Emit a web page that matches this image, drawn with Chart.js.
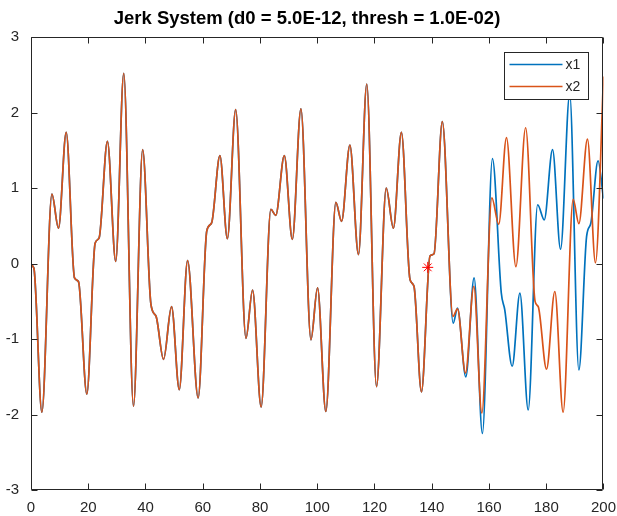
<!DOCTYPE html>
<html>
<head>
<meta charset="utf-8">
<script src="https://cdn.jsdelivr.net/npm/chart.js@4.4.0/dist/chart.umd.min.js"></script>
<style>
  html, body { margin: 0; padding: 0; background: #fff; }
  #wrap { width: 617px; height: 516px; }
</style>
</head>
<body>
<div id="wrap"><canvas id="jerkChart"></canvas></div>
<script>
// Jerk system: two trajectories started d0 apart, identical until they separate near t = 140

// shared part of both trajectories (turning points and shoulders)
const commonT = [0, 1.0, 3.8, 7.3, 9.6, 12.3, 15.2, 16.6, 19.5, 22.4, 23.8, 26.7, 29.6, 32.4,
  35.8, 39.0, 41.9, 43.7, 46.3, 49.1, 51.8, 54.7, 58.4, 61.4, 63.1, 66.0, 68.6, 71.5,
  75.1, 77.4, 80.4, 83.8, 85.5, 88.5, 91.3, 94.3, 97.8, 100.1, 103.0, 106.5, 108.5,
  111.4, 114.4, 117.3, 120.7, 124.1, 126.6, 129.4, 132.4, 133.8, 136.4, 139.4, 140.8, 143.7];
const commonY = [-0.02, -0.06, -1.97, 0.92, 0.47, 1.74, -0.19, -0.24, -1.73, 0.27, 0.34, 1.62, 0.03, 2.52,
  -1.89, 1.51, -0.54, -0.70, -1.27, -0.57, -1.67, 0.04, -1.78, 0.43, 0.54, 1.43, 0.33, 2.04,
  -0.99, -0.35, -1.90, 0.72, 0.64, 1.43, 0.32, 2.05, -1.01, -0.32, -1.96, 0.81, 0.56,
  1.57, 0.12, 2.38, -1.63, 1.00, 0.47, 1.74, -0.21, -0.30, -1.70, 0.10, 0.13, 1.88];

// x1 after separation
const x1TailT = [147.5, 149.0, 151.9, 154.8, 157.7, 161.2, 164.3, 165.5, 168.1, 170.8, 173.7,
  177.0, 179.3, 182.2, 185.0, 188.2, 191.4, 194.1, 195.6, 198.1, 200];
const x1TailY = [-0.79, -0.59, -1.50, -0.19, -2.25, 1.39, -0.39, -0.61, -1.36, -0.39, -1.94,
  0.78, 0.58, 1.51, 0.19, 2.25, -1.41, 0.36, 0.54, 1.36, 0.86];

// x2 after separation
const x2TailT = [147.4, 149.0, 151.8, 154.7, 157.5, 161.0, 163.4, 166.1, 169.4, 172.8, 176.1,
  177.2, 180.1, 183.0, 185.9, 189.4, 191.4, 194.4, 197.2, 200];
const x2TailY = [-0.70, -0.60, -1.45, -0.30, -1.98, 0.87, 0.52, 1.67, -0.04, 1.80, -0.50,
  -0.57, -1.40, -0.37, -1.97, 0.85, 0.53, 1.65, 0.01, 2.48];

// divergence marker
const markT = [138.6];
const markY = [-0.05];

const xTicks = [0, 20, 40, 60, 80, 100, 120, 140, 160, 180, 200];
const yTicks = [-3, -2, -1, 0, 1, 2, 3];

const seriesNames = ['x1', 'x2'];
const seriesColors = ['#0072BD', '#D95319'];

function toPoints(ts, ys) {
  return ts.map((t, i) => ({ x: t, y: ys[i] }));
}

const x1Data = toPoints(commonT.concat(x1TailT), commonY.concat(x1TailY));
const x2Data = toPoints(commonT.concat(x2TailT), commonY.concat(x2TailY));
const markData = toPoints(markT, markY);

const axisColor = '#262626';
const fontFamily = "'Liberation Sans', Arial, sans-serif";

// box around the axes with inward ticks on all four sides, plus the legend
const frameAndLegend = {
  id: 'frameAndLegend',
  afterDraw(chart) {
    const { ctx, chartArea: a, scales } = chart;
    const L = Math.round(a.left) + 0.5, R = Math.round(a.right) - 0.5;
    const T = Math.round(a.top) + 0.5, B = Math.round(a.bottom) - 0.5;
    const tl = 6;
    ctx.save();
    ctx.strokeStyle = axisColor;
    ctx.lineWidth = 1;
    ctx.beginPath();
    ctx.rect(L, T, R - L, B - T);
    xTicks.forEach(v => {
      const px = Math.round(scales.x.getPixelForValue(v)) + 0.5;
      ctx.moveTo(px, B); ctx.lineTo(px, B - tl);
      ctx.moveTo(px, T); ctx.lineTo(px, T + tl);
    });
    yTicks.forEach(v => {
      const py = Math.round(scales.y.getPixelForValue(v)) + 0.5;
      ctx.moveTo(L, py); ctx.lineTo(L + tl, py);
      ctx.moveTo(R, py); ctx.lineTo(R - tl, py);
    });
    ctx.stroke();

    // legend box, top right inside the axes
    const bw = 84, bh = 47;
    const bx = Math.round(a.right - 15 - bw) + 0.5;
    const by = Math.round(a.top + 15) + 0.5;
    ctx.fillStyle = '#fff';
    ctx.fillRect(bx, by, bw, bh);
    ctx.strokeStyle = axisColor;
    ctx.strokeRect(bx, by, bw, bh);
    ctx.font = '14px ' + fontFamily;
    ctx.textBaseline = 'middle';
    seriesNames.forEach((name, i) => {
      const ly = by + 12 + i * 22;
      ctx.strokeStyle = seriesColors[i];
      ctx.lineWidth = 1.5;
      ctx.beginPath();
      ctx.moveTo(bx + 5, ly);
      ctx.lineTo(bx + 58, ly);
      ctx.stroke();
      ctx.fillStyle = axisColor;
      ctx.fillText(name, bx + 61, ly + 1);
    });
    ctx.restore();
  }
};

new Chart(document.getElementById('jerkChart'), {
  type: 'line',
  data: {
    datasets: [
      {
        label: 'x1',
        data: x1Data,
        borderColor: seriesColors[0],
        borderWidth: 1.7,
        pointRadius: 0,
        cubicInterpolationMode: 'monotone',
        order: 2
      },
      {
        label: 'x2',
        data: x2Data,
        borderColor: seriesColors[1],
        borderWidth: 1.7,
        pointRadius: 0,
        cubicInterpolationMode: 'monotone',
        order: 1
      },
      {
        label: 'divergence',
        data: markData,
        showLine: false,
        pointStyle: 'star',
        pointRadius: 5.5,
        borderColor: '#ff0000',
        borderWidth: 1,
        order: 0
      }
    ]
  },
  options: {
    responsive: true,
    maintainAspectRatio: false,
    animation: false,
    layout: { padding: { left: 0, right: 3, top: 0, bottom: 0 } },
    plugins: {
      legend: { display: false },
      tooltip: { enabled: false },
      title: {
        display: true,
        text: 'Jerk System (d0 = 5.0E-12, thresh = 1.0E-02)',
        color: '#000',
        font: { family: fontFamily, size: 18.5, weight: 'bold', lineHeight: 1.2 },
        padding: { top: 8, bottom: 7 }
      }
    },
    scales: {
      x: {
        type: 'linear',
        min: 0,
        max: 200,
        afterBuildTicks: s => { s.ticks = xTicks.map(v => ({ value: v })); },
        afterFit: s => { s.height = 26; },
        grid: { display: false },
        border: { display: false },
        ticks: { color: axisColor, padding: 1, maxRotation: 0, font: { family: fontFamily, size: 15 } }
      },
      y: {
        min: -3,
        max: 3,
        afterBuildTicks: s => { s.ticks = yTicks.map(v => ({ value: v })); },
        afterFit: s => { s.width = 31; },
        grid: { display: false },
        border: { display: false },
        ticks: { color: axisColor, padding: 4, font: { family: fontFamily, size: 15 } }
      }
    }
  },
  plugins: [frameAndLegend]
});
</script>
</body>
</html>
